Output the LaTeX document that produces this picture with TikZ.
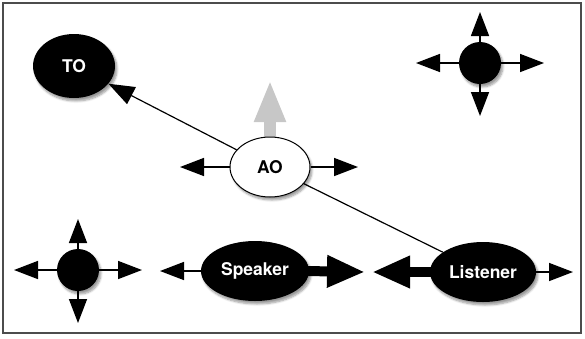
\documentclass[tikz,border=0pt]{standalone}
\usepackage{fontspec}
\setmainfont{TeX Gyre Heros}
\usetikzlibrary{arrows.meta, shapes.geometric, shadows.blur, backgrounds}

\begin{document}
\begin{tikzpicture}[
		x=1pt, y=-1pt,
		font=\fontsize{17.5}{19}\selectfont\bfseries,
		agent/.style	={ ellipse, fill=black, text=white,
			inner sep=0pt, minimum height=60pt,
			blur shadow={shadow xshift=2pt, shadow yshift=-3pt, shadow blur steps=6},
		},
		observer/.style	={ ellipse, fill=white, draw=black, line width=1pt,
			inner sep=0pt, minimum width=80pt, minimum height=60pt,
			blur shadow={shadow xshift=2pt, shadow yshift=-3pt, shadow blur steps=6},
		},
		dot/.style 		={ circle, fill=black, minimum size=42pt, inner sep=0pt,
			blur shadow={shadow xshift=2pt, shadow yshift=-3pt, shadow blur steps=6},
		},
		move/.style		={ line width=1.5pt, line cap=butt,
			-{Triangle[length=24pt, width=18pt]},
		},
		push/.style		={ line width=10pt, line cap=butt,
			-{Triangle[length=38pt, width=30pt]},
		},
		link/.style		={ line width=1.2pt },
	]
	
	\useasboundingbox (0,0) rectangle (585,338);
	\draw [line width=1.2pt, black!70] (3,3) rectangle (581,333);
	
	\def\mydots{ a/480/63, b/78/270 }
	
	% draw the lone dots with their four moves
	\foreach \n/\x/\y in \mydots {
		\node [dot] (dot_\n) at (\x,\y) {};
		\coordinate (dot_\n_e) at (\x+64,\y);
		\coordinate (dot_\n_w) at (\x-64,\y);
		\coordinate (dot_\n_n) at (\x,\y-51);
		\coordinate (dot_\n_s) at (\x,\y+53);
		\draw [move] (dot_\n.east) -- (dot_\n_e);
		\draw [move] (dot_\n.west) -- (dot_\n_w);
		\draw [move] (dot_\n.north) -- (dot_\n_n);
		\draw [move] (dot_\n.south) -- (dot_\n_s);
	}
	
	% draw agents
	\node [agent, minimum width=82pt, minimum height=64pt] (to) at (74,66) {TO};
	\node [observer] (ao) at (270,167) {AO};
	\node [agent, minimum width=108pt] (speaker) at (255,271) {Speaker};
	\node [agent, minimum width=106pt] (listener) at (483,272) {Listener};
	
	% free ends of the moves
	\coordinate (ao_up) at (270,80);
	\coordinate (ao_w) at (180,167);
	\coordinate (ao_e) at (358,167);
	\coordinate (speaker_w) at (160,271);
	\coordinate (speaker_e) at (365,272);
	\coordinate (listener_w) at (372,272);
	\coordinate (listener_e) at (573,272);
	
	% draw moves
	\begin{pgfonlayer}{background}
		\draw [line width=12pt, black!22, line cap=butt,
			-{Triangle[length=42pt, width=29pt]}] ([yshift=-4pt]ao.north) -- (ao_up);
		\draw [push] ([xshift=-4pt]speaker.east) -- (speaker_e);
		\draw [push] ([xshift=4pt]listener.west) -- (listener_w);
	\end{pgfonlayer}
	\draw [move] (ao.west) -- (ao_w);
	\draw [move] (ao.east) -- (ao_e);
	\draw [move] (speaker.west) -- (speaker_w);
	\draw [move] (listener.east) -- (listener_e);
	
	% draw links
	\draw [link, -{Triangle[length=26pt, width=19pt]}] (ao) -- (to);
	\draw [link] (ao) -- (listener);
	
\end{tikzpicture}
\end{document}
